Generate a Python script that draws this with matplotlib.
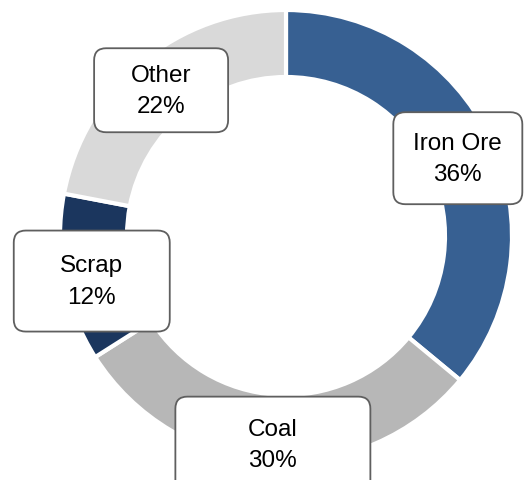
import numpy as np
import matplotlib
matplotlib.use("Agg")
import matplotlib.pyplot as plt
from matplotlib.patches import FancyBboxPatch

# Data
categories = ["Iron Ore", "Coal", "Scrap", "Other"]
shares = [36, 30, 12, 22]

# Styles
colors = ["#376092", "#b7b7b7", "#1b365e", "#d9d9d9"]
label_radius = [0.85, 0.925, 0.875, 0.86]   # fraction of outer radius
label_shift = [(-2, -4), (0, 0), (0, -8), (-1, -4)]  # px nudges
box_sizes = [(129, 92), (195, 96), (156, 101), (134, 84)]  # px

W, H = 531, 480
fig = plt.figure(figsize=(W / 100, H / 100), dpi=100)
ax = fig.add_axes([0, 0, 1, 1])
ax.set_xlim(0, W)
ax.set_ylim(0, H)
ax.set_aspect("equal")
ax.axis("off")

cx, cy = 286, H - 236
R = 226
width = 67

wedges, _ = ax.pie(shares, colors=colors, startangle=90, counterclock=False,
                   center=(cx, cy), radius=R,
                   wedgeprops=dict(width=width, edgecolor="white", linewidth=3))
ax.set_xlim(0, W)
ax.set_ylim(0, H)

total = sum(shares)
cum = 0
for i, (cat, v) in enumerate(zip(categories, shares)):
    mid = 90 - (cum + v / 2) / total * 360
    cum += v
    r = R * label_radius[i]
    x = cx + r * np.cos(np.radians(mid)) + label_shift[i][0]
    y = cy + r * np.sin(np.radians(mid)) + label_shift[i][1]
    bw, bh = box_sizes[i]
    box = FancyBboxPatch((x - bw / 2, y - bh / 2), bw, bh,
                         boxstyle="round,pad=0,rounding_size=12",
                         facecolor="white", edgecolor="#5f5f5f", linewidth=1.3,
                         zorder=5)
    ax.add_patch(box)
    ax.text(x, y - 1, f"{cat}\n{v}%", ha="center", va="center", fontsize=17.5,
            family="Liberation Sans", linespacing=1.55, color="black", zorder=6)

fig.savefig("out.png", dpi=100)
